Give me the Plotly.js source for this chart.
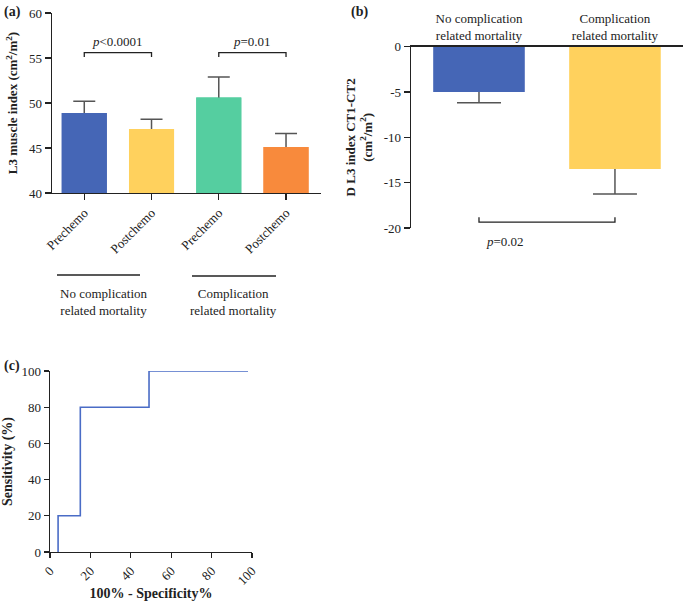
<!DOCTYPE html>
<html>
<head>
<meta charset="utf-8">
<script src="https://cdn.plot.ly/plotly-3.0.1.min.js"></script>
<style>html,body{margin:0;padding:0;background:#fff;}#chart{width:685px;height:601px;}</style>
</head>
<body>
<div id="chart"></div>
<script>
// Panel (a) data
var aPositions = [0, 1, 2, 3];
var aLabels = ["Prechemo", "Postchemo", "Prechemo", "Postchemo"];
var aMeans = [48.9, 47.1, 50.6, 45.1];
var aErrors = [1.3, 1.1, 2.3, 1.5];
var aColors = ["#4566b6", "#ffd15d", "#55cea0", "#f88a3c"];

// Panel (b) data
var bPositions = [0, 1];
var bLabels = ["No complication<br>related mortality", "Complication<br>related mortality"];
var bMeans = [-5.0, -13.5];
var bErrors = [1.17, 2.75];
var bColors = ["#4566b6", "#ffd15d"];
var bTickVals = [0, -5, -10, -15, -20];
var bTickText = ["0", "-5", "-10", "-15", "-20"];

// Panel (c) data: ROC curve points
var cFpr = [4, 15, 49, 98];
var cSens = [0, 20, 80, 100];

var serif = "Liberation Serif";
var ink = "#222";
var errColor = "#555";

var traces = [
  {type: "bar", x: aPositions, y: aMeans, xaxis: "x", yaxis: "y", width: 0.67,
   marker: {color: aColors}, error_y: {type: "data", array: aErrors, visible: true, color: errColor, thickness: 1.5, width: 11},
   hoverinfo: "skip", showlegend: false},
  {type: "bar", x: aPositions, y: aMeans, xaxis: "x", yaxis: "y", width: 0.67,
   marker: {color: aColors}, showlegend: false},
  {type: "bar", x: bPositions, y: bMeans, xaxis: "x2", yaxis: "y2", width: 0.67,
   marker: {color: bColors}, error_y: {type: "data", array: bErrors, visible: true, color: errColor, thickness: 1.5, width: 22},
   hoverinfo: "skip", showlegend: false},
  {type: "bar", x: bPositions, y: bMeans, xaxis: "x2", yaxis: "y2", width: 0.67,
   marker: {color: bColors}, showlegend: false},
  {type: "scatter", mode: "lines", x: cFpr, y: cSens, xaxis: "x3", yaxis: "y3",
   line: {color: "#4a6cc6", width: 1.6, shape: "vh"}, showlegend: false}
];

var tickFont = {family: serif, size: 13, color: ink};
var titleFont = {family: serif, size: 13, color: ink};
var labelFont = {family: serif, size: 14, color: ink};

var layout = {
  width: 685, height: 601, autosize: false,
  margin: {l: 0, r: 0, t: 0, b: 0},
  paper_bgcolor: "#fff", plot_bgcolor: "rgba(0,0,0,0)",
  barmode: "overlay",
  font: {family: serif, color: ink},
  xaxis: {domain: [0.0759, 0.4686], anchor: "y", range: [-0.48, 3.52],
    tickvals: aPositions, ticktext: aLabels, tickangle: -45, ticks: "outside", ticklen: 6,
    tickcolor: ink, tickwidth: 1.3, showline: true, linecolor: ink, linewidth: 1.3,
    showgrid: false, zeroline: false, tickfont: tickFont, fixedrange: true},
  yaxis: {domain: [0.6789, 0.9784], anchor: "x", range: [40, 60], dtick: 5,
    ticks: "outside", ticklen: 6, tickcolor: ink, tickwidth: 1.3, showline: true,
    linecolor: ink, linewidth: 1.3, showgrid: false, zeroline: false, tickfont: tickFont,
    title: {text: "<b>L3 muscle index (cm<sup>2</sup>/m<sup>2</sup>)</b>", font: titleFont, standoff: 8}},
  xaxis2: {domain: [0.600, 0.997], anchor: "y2", side: "top", range: [-0.5, 1.5],
    tickvals: bPositions, ticktext: bLabels, ticks: "", showline: true, linecolor: ink,
    linewidth: 1.3, showgrid: false, zeroline: false, tickfont: tickFont, fixedrange: true},
  yaxis2: {domain: [0.6206, 0.9223], anchor: "x2", range: [-20, 0],
    tickvals: bTickVals, ticktext: bTickText,
    ticks: "outside", ticklen: 6, tickcolor: ink, tickwidth: 1.3, showline: true,
    linecolor: ink, linewidth: 1.3, showgrid: false, zeroline: false, tickfont: tickFont,
    title: {text: "<b>D L3 index CT1-CT2<br>(cm<sup>2</sup>/m<sup>2</sup>)</b>", font: titleFont, standoff: 8}},
  xaxis3: {domain: [0.073, 0.368], anchor: "y3", range: [0, 100], dtick: 20, tickangle: -45,
    ticks: "outside", ticklen: 5, tickcolor: ink, tickwidth: 1.3, showline: true,
    linecolor: ink, linewidth: 1.3, showgrid: false, zeroline: false, tickfont: tickFont,
    title: {text: "<b>100% - Specificity%</b>", font: labelFont, standoff: 6}},
  yaxis3: {domain: [0.0815, 0.3827], anchor: "x3", range: [0, 100], dtick: 20,
    ticks: "outside", ticklen: 5, tickcolor: ink, tickwidth: 1.3, showline: true,
    linecolor: ink, linewidth: 1.3, showgrid: false, zeroline: false, tickfont: tickFont,
    title: {text: "<b>Sensitivity (%)</b>", font: labelFont, standoff: 8}},
  shapes: [
    {type: "path", xref: "x", yref: "y", path: "M 0,55.1 L 0,55.6 L 1,55.6 L 1,55.1", line: {color: ink, width: 1.3}},
    {type: "path", xref: "x", yref: "y", path: "M 2,55.1 L 2,55.6 L 3,55.6 L 3,55.1", line: {color: ink, width: 1.3}},
    {type: "path", xref: "x2", yref: "y2", path: "M 0,-18.8 L 0,-19.36 L 1,-19.36 L 1,-18.8", line: {color: ink, width: 1.3}},
    {type: "line", xref: "paper", yref: "paper", x0: 57/685, x1: 140/685, y0: (601-275)/601, y1: (601-275)/601, line: {color: ink, width: 1.3}},
    {type: "line", xref: "paper", yref: "paper", x0: 192/685, x1: 276/685, y0: (601-276)/601, y1: (601-276)/601, line: {color: ink, width: 1.3}}
  ],
  annotations: [
    {xref: "x", yref: "y", x: 0.5, y: 55.75, xanchor: "center", yanchor: "bottom", text: "<i>p</i>&lt;0.0001", showarrow: false, font: tickFont},
    {xref: "x", yref: "y", x: 2.5, y: 55.75, xanchor: "center", yanchor: "bottom", text: "<i>p</i>=0.01", showarrow: false, font: tickFont},
    {xref: "paper", yref: "paper", x: 505/685, y: (601-241)/601, xanchor: "center", yanchor: "middle", text: "<i>p</i>=0.02", showarrow: false, font: tickFont},
    {xref: "paper", yref: "paper", x: 104/685, y: (601-302)/601, xanchor: "center", yanchor: "middle", text: "No complication<br>related mortality", showarrow: false, font: tickFont},
    {xref: "paper", yref: "paper", x: 233/685, y: (601-302)/601, xanchor: "center", yanchor: "middle", text: "Complication<br>related mortality", showarrow: false, font: tickFont},
    {xref: "paper", yref: "paper", x: 2/685, y: (601-12)/601, xanchor: "left", yanchor: "middle", text: "<b>(a)</b>", showarrow: false, font: labelFont},
    {xref: "paper", yref: "paper", x: 349/685, y: (601-12)/601, xanchor: "left", yanchor: "middle", text: "<b>(b)</b>", showarrow: false, font: labelFont},
    {xref: "paper", yref: "paper", x: 2/685, y: (601-366)/601, xanchor: "left", yanchor: "middle", text: "<b>(c)</b>", showarrow: false, font: labelFont}
  ]
};

Plotly.newPlot("chart", traces, layout, {displayModeBar: false, staticPlot: true});
</script>
</body>
</html>
